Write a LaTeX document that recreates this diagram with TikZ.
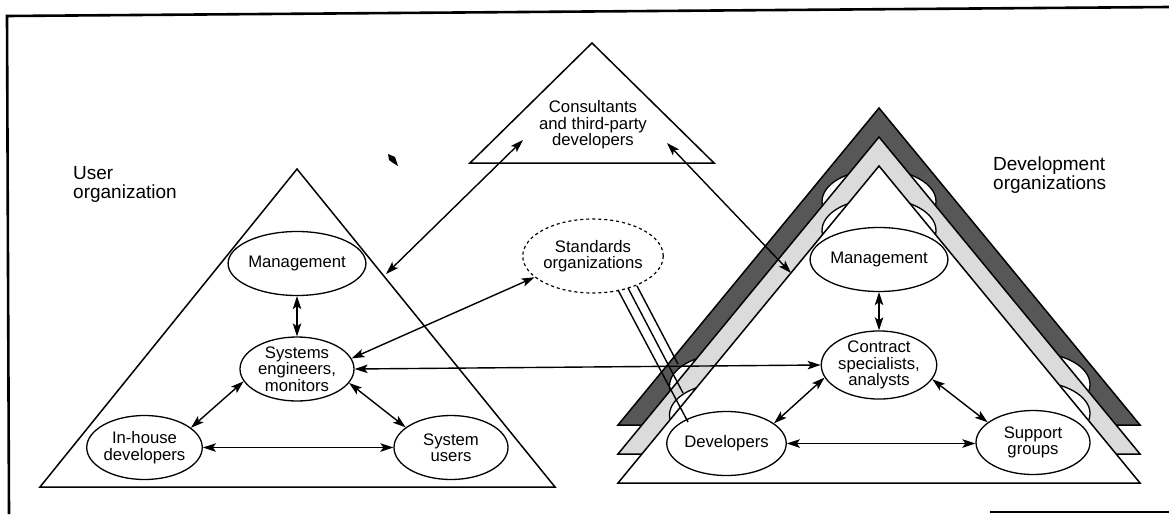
\documentclass[tikz,border=0pt]{standalone}
\usepackage{fontspec}
\setmainfont{Liberation Sans}
\usetikzlibrary{arrows.meta,shapes.geometric}
\definecolor{darkband}{gray}{0.34}
\definecolor{lightband}{gray}{0.86}
\begin{document}
\begin{tikzpicture}[x=1pt,y=-1pt,
  every node/.style={font=\fontsize{16.7}{16.5}\selectfont, inner sep=0pt, align=center},
  unit/.style={draw, ellipse, line width=1.3pt, fill=white, minimum width=114pt, minimum height=64pt},
  ghost/.style={draw, ellipse, line width=1.3pt, fill=white, minimum width=114pt, minimum height=64pt},
  tip/.tip={Stealth[length=13pt,width=8.5pt,inset=3pt]},
  link/.style={line width=1.4pt, tip-tip},
  plain/.style={line width=1.4pt},
  edge/.style={line width=1.5pt},
  heading/.style={font=\fontsize{19}{19}\selectfont, align=left, anchor=north west}
]
\useasboundingbox (0,0) rectangle (1169,514);

% frame
\draw[line width=2.6pt] (1169,7) -- (7,16) -- (9,514);
\draw[line width=2.6pt] (990,512) -- (1169,512);

% user organization
\draw[edge] (297,169) -- (555,487) -- (40,487) -- cycle;
\node[heading] (ulab) at (73,166) {User\\organization};
\node[unit] (um) at (297,263.5) {Management};
\node[unit] (us) at (297,369) {Systems\\engineers,\\monitors};
\node[unit] (uh) at (144.5,447.5) {In-house\\developers};
\node[unit] (uu) at (451,447.5) {System\\users};

% consultants
\draw[edge] (592,43) -- (714,163) -- (470,163) -- cycle;
\node (cons) at (593,125) {Consultants\\and third-party\\developers};

% standards
\node[draw, dashed, ellipse, line width=1.2pt, minimum width=136pt, minimum height=74pt] (std) at (593,256) {Standards\\organizations};

% development organizations: three stacked layers
\draw[edge, fill=darkband] (879,108) -- (1140,425) -- (618,425) -- cycle;
\begin{scope}
  \clip (879,108) -- (1140,425) -- (618,425) -- cycle;
  \node[ghost] (g3m) at (879,201.5) {};
  \node[ghost] (g3c) at (879,307) {};
  \node[ghost] (g3d) at (726.5,386) {};
  \node[ghost] (g3s) at (1033,384.5) {};
\end{scope}
\draw[edge, fill=lightband] (879,137) -- (1140,454) -- (618,454) -- cycle;
\begin{scope}
  \clip (879,137) -- (1140,454) -- (618,454) -- cycle;
  \node[ghost] (g2m) at (879,230.5) {};
  \node[ghost] (g2c) at (879,336) {};
  \node[ghost] (g2d) at (726.5,415) {};
  \node[ghost] (g2s) at (1033,413.5) {};
\end{scope}
\draw[edge, fill=white] (879,166) -- (1140,483) -- (618,483) -- cycle;
\node[heading] (dlab) at (993,157) {Development\\organizations};
\node[unit] (dm) at (879,259.5) {Management};
\node[unit] (dc) at (879,365) {Contract\\specialists,\\analysts};
\node[unit] (dd) at (726.5,443.5) {Developers};
\node[unit] (ds) at (1033,442.5) {Support\\groups};

% links inside the user organization
\draw[link] (um) -- (us);
\draw[link] (us.193) -- (uh.23);
\draw[link] (us.-15) -- (uu.156);
\draw[link] (uh) -- (uu);

% links inside the development organization
\draw[link] (dm) -- (dc);
\draw[link] (dc.193) -- (dd.23);
\draw[link] (dc.-15) -- (ds.156);
\draw[link] (dd.east) -- (dd.east -| ds.west);

% links between organizations
\coordinate (uedge) at (386,274);
\coordinate (cleft) at (523,140);
\coordinate (cright) at (667,143);
\coordinate (dedge) at (791,273);
\draw[link] (uedge) -- (cleft);
\draw[link] (cright) -- (dedge);
\draw[link] (us.11) -- (std.200);
\draw[link] (us.east) -- (dc.west);

% standards reach every development layer
\coordinate (s1) at (637,286);
\coordinate (s2) at (628,288);
\coordinate (s3) at (618,290);
\coordinate (e1) at (678,364);
\coordinate (e2) at (683,393);
\coordinate (e3) at (688,422);
\draw[plain] (s1) -- (e1);
\draw[plain] (s2) -- (e2);
\draw[plain] (s3) -- (e3);

% speck
\fill (388,154) -- (395,157) -- (398,166) -- (393,163) -- (389,160) -- cycle;
\end{tikzpicture}
\end{document}
